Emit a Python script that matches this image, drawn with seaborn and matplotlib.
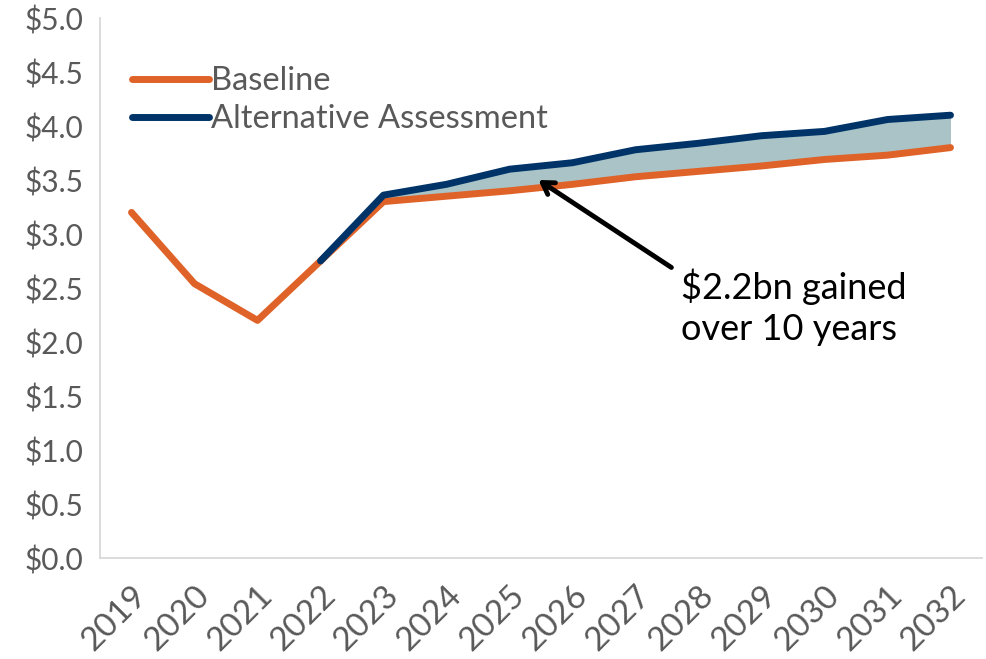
import numpy as np
import pandas as pd
import matplotlib
matplotlib.use("Agg")
import matplotlib.pyplot as plt
from matplotlib.ticker import FixedLocator, FuncFormatter
import seaborn as sns

# Revenue projections, $bn
years = [2019, 2020, 2021, 2022, 2023, 2024, 2025, 2026, 2027, 2028, 2029, 2030, 2031, 2032]
baseline = [3.20, 2.54, 2.20, 2.75, 3.30, 3.35, 3.40, 3.46, 3.53, 3.58, 3.63, 3.69, 3.73, 3.80]
alternative = [np.nan, np.nan, np.nan, 2.75, 3.36, 3.46, 3.60, 3.66, 3.78, 3.84, 3.91, 3.95, 4.06, 4.10]
y_ticks = [0.0, 0.5, 1.0, 1.5, 2.0, 2.5, 3.0, 3.5, 4.0, 4.5, 5.0]
note_text = "$2.2bn gained\nover 10 years"

ORANGE = "#DF6329"
NAVY = "#003468"
FILL = "#A9C3C6"
GREY_TXT = "#595959"
AXIS_GREY = "#D9D9D9"

sns.set_style("white")
plt.rcParams["font.family"] = ["Lato", "DejaVu Sans"]

df = pd.DataFrame({"pos": np.arange(len(years)), "Baseline": baseline,
                   "Alternative Assessment": alternative})

fig = plt.figure(figsize=(9.86, 6.59), dpi=100)
ax = fig.add_axes([100 / 986, 1 - 558 / 659, 882 / 986, 540 / 659])

mask = df["Alternative Assessment"].notna()
ax.fill_between(df.loc[mask, "pos"], df.loc[mask, "Baseline"],
                df.loc[mask, "Alternative Assessment"], color=FILL, linewidth=0, zorder=1)

sns.lineplot(data=df, x="pos", y="Baseline", ax=ax, color=ORANGE, linewidth=5,
             label="Baseline", zorder=3)
sns.lineplot(data=df[mask], x="pos", y="Alternative Assessment", ax=ax, color=NAVY,
             linewidth=5, label="Alternative Assessment", zorder=4)
for ln in ax.get_lines():
    ln.set_solid_capstyle("round")
    ln.set_solid_joinstyle("round")

ax.set_xlim(-0.5, len(years) - 0.5)
ax.set_ylim(0, 5)
ax.set_xlabel("")
ax.set_ylabel("")

# category boundaries carry tick marks, centres carry the labels
ax.xaxis.set_major_locator(FixedLocator(np.arange(-0.5, len(years), 1.0)))
ax.xaxis.set_major_formatter(FuncFormatter(lambda v, p: ""))
ax.set_xticks(np.arange(len(years)), minor=True)
ax.set_xticklabels([str(y) for y in years], minor=True, rotation=45, ha="right",
                   rotation_mode="anchor", fontsize=24, color=GREY_TXT)
ax.tick_params(axis="x", which="major", length=8, width=1.3, color=AXIS_GREY, direction="out")
ax.tick_params(axis="x", which="minor", length=0, pad=16)

ax.set_yticks(y_ticks)
ax.set_yticklabels([f"${v:.1f}" for v in y_ticks], fontsize=21.5, color=GREY_TXT)
ax.tick_params(axis="y", length=8, width=1.3, color=AXIS_GREY, direction="out", pad=4)

for side in ["top", "right"]:
    ax.spines[side].set_visible(False)
for side in ["left", "bottom"]:
    ax.spines[side].set_color(AXIS_GREY)
    ax.spines[side].set_linewidth(1.3)

leg = ax.legend(loc="upper left", bbox_to_anchor=(0.022, 0.935), frameon=False,
                fontsize=23.5, handlelength=2.35, handletextpad=0.05, labelspacing=0.25,
                borderaxespad=0)
for t in leg.get_texts():
    t.set_color(GREY_TXT)
for h in leg.get_lines():
    h.set_linewidth(5)
    h.set_solid_capstyle("round")

ax.annotate("", xy=(6.46, 3.50), xytext=(8.57, 2.69),
            arrowprops=dict(arrowstyle="->,head_length=0.8,head_width=0.5",
                            color="black", lw=3.5, shrinkA=0, shrinkB=0), zorder=5)
ax.text(8.73, 2.68, note_text, fontsize=26, color="black", ha="left", va="top",
        linespacing=1.3)

fig.savefig("out.png", dpi=100)
